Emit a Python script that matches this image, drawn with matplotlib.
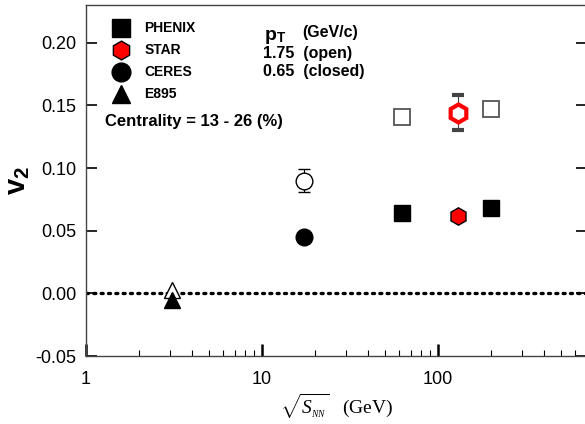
import matplotlib
matplotlib.use('Agg')
import matplotlib.pyplot as plt

plt.rcParams['font.family'] = ['Liberation Sans', 'DejaVu Sans']
plt.rcParams['mathtext.fontset'] = 'custom'
plt.rcParams['mathtext.rm'] = 'Liberation Serif'
plt.rcParams['mathtext.it'] = 'Liberation Serif:italic'
plt.rcParams['mathtext.bf'] = 'Liberation Sans:bold'

# E895
e895_x = [3.1]
e895_open = [0.003]
e895_closed = [-0.005]
# CERES
ceres_x = [17.3]
ceres_open = [0.090]
ceres_open_err = [0.009]
ceres_closed = [0.045]
# PHENIX
phenix_x = [62.4, 200]
phenix_open = [0.141, 0.147]
phenix_closed = [0.064, 0.068]
# STAR
star_x = [130]
star_open = [0.144]
star_open_err = [0.014]
star_closed = [0.062]

fig = plt.figure(figsize=(5.85, 4.24), dpi=100)
ax = fig.add_axes([0.147, 0.160, 0.856, 0.828])

ax.axhline(0, color='black', linestyle=(0, (0.6, 1.6)), linewidth=2.4, dash_capstyle='round', zorder=1)

# open (pT = 1.75)
ax.errorbar(ceres_x, ceres_open, yerr=ceres_open_err, fmt='o', ms=12, mfc='white', mec='black',
            mew=1.0, ecolor='black', elinewidth=0.8, capsize=4, capthick=0.8, zorder=3)
ax.errorbar(star_x, star_open, yerr=star_open_err, fmt='h', ms=13, mfc='white', mec='red',
            mew=3.0, ecolor='#444444', elinewidth=0.8, capsize=4, capthick=0.8, zorder=3)
ax.plot(phenix_x, phenix_open, 's', ms=12, mfc='white', mec='#555555', mew=1.3, zorder=3)
ax.plot(e895_x, e895_open, '^', ms=11, mfc='white', mec='black', mew=1.0, zorder=3)

# closed (pT = 0.65)
ax.plot(ceres_x, ceres_closed, 'o', ms=12, color='black', zorder=3)
ax.plot(phenix_x, phenix_closed, 's', ms=12, color='black', zorder=3)
ax.plot(star_x, star_closed, 'h', ms=12.5, mfc='red', mec='black', mew=1.0, zorder=4)
ax.plot(e895_x, e895_closed, '^', ms=11, color='black', zorder=3)

# legend drawn as markers + text in axes coords
leg_names = ['PHENIX', 'STAR', 'CERES', 'E895']
leg_y = [0.934, 0.872, 0.809, 0.746]
ax.plot(0.070, leg_y[0], 's', ms=12.5, color='black', transform=ax.transAxes, clip_on=False)
ax.plot(0.070, leg_y[1], 'h', ms=13.5, mfc='red', mec='black', mew=1.0, transform=ax.transAxes, clip_on=False)
ax.plot(0.070, leg_y[2], 'o', ms=13.5, color='black', transform=ax.transAxes, clip_on=False)
ax.plot(0.070, leg_y[3], '^', ms=12.5, color='black', transform=ax.transAxes, clip_on=False)
for name, yy in zip(leg_names, leg_y):
    ax.text(0.117, yy, name, transform=ax.transAxes, fontsize=10, fontweight='bold', va='center')

ax.text(0.356, 0.908, r'p$_{\mathbf{T}}$', transform=ax.transAxes, fontsize=14, fontweight='bold', va='center')
ax.text(0.431, 0.921, '(GeV/c)', transform=ax.transAxes, fontsize=11.5, fontweight='bold', va='center')
ax.text(0.354, 0.863, '1.75  (open)', transform=ax.transAxes, fontsize=11.5, fontweight='bold', va='center')
ax.text(0.354, 0.812, '0.65  (closed)', transform=ax.transAxes, fontsize=11.5, fontweight='bold', va='center')
ax.text(0.038, 0.667, 'Centrality = 13 - 26 (%)', transform=ax.transAxes, fontsize=12, fontweight='bold', va='center')

ax.set_xscale('log')
ax.set_xlim(1, 700)
ax.set_ylim(-0.05, 0.23)
ax.set_xticks([1, 10, 100])
ax.set_xticklabels(['1', '10', '100'])
ax.set_yticks([-0.05, 0.0, 0.05, 0.10, 0.15, 0.20])
ax.set_yticklabels(['-0.05', '0.00', '0.05', '0.10', '0.15', '0.20'])
ax.tick_params(axis='both', which='major', direction='in', labelsize=13, pad=7)
ax.tick_params(axis='x', which='major', length=9, width=1.8, pad=11)
ax.tick_params(axis='x', which='minor', direction='in', length=4, width=0.8)
ax.tick_params(axis='y', which='major', length=8, width=1.2, right=True)
ax.tick_params(axis='y', which='minor', left=False, right=False)
for s in ax.spines.values():
    s.set_linewidth(1.0)
    s.set_color('#444444')

ax.set_ylabel(r'v$_{\mathbf{2}}$', fontsize=21, fontweight='bold', labelpad=2)
ax.set_xlabel(r'$\sqrt{S_{_{NN}}}$   (GeV)', fontsize=14, family='Liberation Serif', labelpad=2)

fig.savefig('out.png', dpi=100)
